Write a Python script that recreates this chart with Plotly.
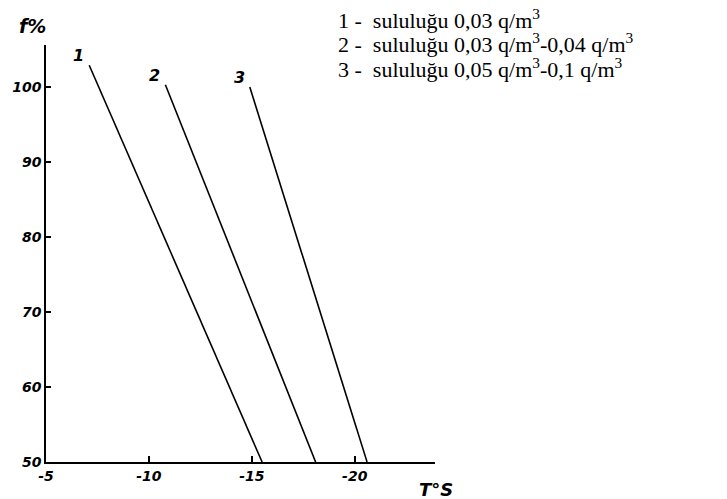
import plotly.graph_objects as go

# Data
temp_top = [-7.1, -10.8, -14.9]      # T°S at the upper end of each line
f_top = [102.9, 100.3, 100.0]        # f% at the upper end
temp_bottom = [-15.5, -18.1, -20.6]  # T°S at the lower end
f_bottom = [50, 50, 50]
line_names = ["1", "2", "3"]
legend_texts = [
    "1 -  sululuğu 0,03 q/m<sup>3</sup>",
    "2 -  sululuğu 0,03 q/m<sup>3</sup>-0,04 q/m<sup>3</sup>",
    "3 -  sululuğu 0,05 q/m<sup>3</sup>-0,1 q/m<sup>3</sup>",
]
x_ticks = [-5, -10, -15, -20]
y_ticks = [50, 60, 70, 80, 90, 100]

hand_font = dict(family="DejaVu Sans", size=14, color="black", weight="bold", style="italic")

fig = go.Figure()
for i in range(3):
    fig.add_trace(go.Scatter(
        x=[temp_top[i], temp_bottom[i]], y=[f_top[i], f_bottom[i]],
        mode="lines", line=dict(color="black", width=1.6),
        showlegend=False, hoverinfo="skip"))
    fig.add_annotation(x=temp_top[i], y=f_top[i], text=line_names[i],
                       showarrow=False, xanchor="right", yanchor="bottom",
                       xshift=-3, yshift=-2, font=dict(hand_font, size=16))

legend_y = [1.062, 1.004, 0.946]
for t, yy in zip(legend_texts, legend_y):
    fig.add_annotation(xref="paper", yref="paper", x=0.746, y=yy, text=t,
                       showarrow=False, xanchor="left", yanchor="middle",
                       font=dict(family="Liberation Serif", size=22, color="black"))

# axis titles
fig.add_annotation(xref="paper", yref="paper", x=-0.075, y=1.045, text="f%",
                   showarrow=False, xanchor="left", yanchor="middle",
                   font=dict(hand_font, size=19))
fig.add_annotation(xref="paper", yref="paper", x=0.955, y=-0.065, text="T°S",
                   showarrow=False, xanchor="left", yanchor="middle",
                   font=dict(hand_font, size=18))

fig.update_layout(
    width=727, height=499,
    margin=dict(l=40, r=292, t=45, b=37),
    plot_bgcolor="white", paper_bgcolor="white",
    xaxis=dict(range=[-5, -23.9], tickvals=x_ticks, ticktext=[str(v) for v in x_ticks],
               showline=True, linecolor="black", linewidth=1.6,
               ticks="inside", ticklen=6, tickwidth=2, tickcolor="black",
               showgrid=False, zeroline=False, tickfont=hand_font),
    yaxis=dict(range=[50, 105.6], tickvals=y_ticks, ticktext=[str(v) for v in y_ticks],
               showline=True, linecolor="black", linewidth=1.6,
               ticks="inside", ticklen=5, tickwidth=2, tickcolor="black",
               showgrid=False, zeroline=False, tickfont=hand_font),
)

fig.write_html("out.html")
